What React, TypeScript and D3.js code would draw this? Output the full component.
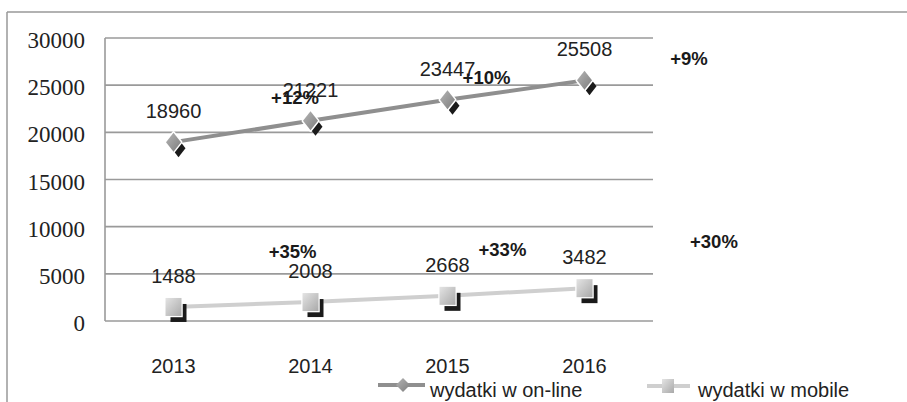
import React from "react";
import * as d3 from "d3";

const years = ["2013", "2014", "2015", "2016"];
const online = [18960, 21221, 23447, 25508];
const mobile = [1488, 2008, 2668, 3482];
const yTicks = [0, 5000, 10000, 15000, 20000, 25000, 30000];
const seriesNames = ["wydatki w on-line", "wydatki w mobile"];
// growth annotations: label, fractional category index, value anchor
const growthLabels = ["+12%", "+10%", "+9%", "+35%", "+33%", "+30%"];
const growthIdx = [0.887, 2.285, 3.763, 0.869, 2.401, 3.945];
const growthVal = [23000, 25124, 27138, 6678, 6890, 7739];

const W = 907;
const H = 402;
const plot = { left: 105, right: 653, top: 38, bottom: 321 };
const sans = "'Liberation Sans', Arial, sans-serif";
const serif =
  "'Liberation Serif', 'Times New Roman', Times, Tinos, 'Noto Serif', 'DejaVu Serif', FreeSerif, serif";

export default function App() {
  const x = d3.scaleBand().domain(years).range([plot.left, plot.right]);
  const cx = (i: number) => plot.left + x.bandwidth() * (i + 0.5);
  const y = d3.scaleLinear().domain([0, 30000]).range([plot.bottom, plot.top]);
  const line = d3
    .line<number>()
    .x((_, i) => cx(i))
    .y((d) => y(d));

  const diamond = (px: number, py: number, w: number, h: number) =>
    `M${px},${py - h / 2}L${px + w / 2},${py}L${px},${py + h / 2}L${px - w / 2},${py}Z`;

  const OnlineMarker = ({ px, py }: { px: number; py: number }) => (
    <g>
      <path d={diamond(px + 5, py + 6, 14, 18)} fill="#1a1a1a" />
      <path d={diamond(px, py, 15, 19)} fill="url(#gDiamond)" stroke="#fff" strokeWidth={3} strokeLinejoin="round" />
      <path d={diamond(px, py, 15, 19)} fill="url(#gDiamond)" />
    </g>
  );
  const MobileMarker = ({ px, py }: { px: number; py: number }) => (
    <g>
      <rect x={px - 8 + 5} y={py - 9 + 6} width={16} height={18} fill="#1a1a1a" />
      <rect x={px - 8} y={py - 9} width={16} height={18} fill="url(#gSquare)" stroke="#fff" strokeWidth={2.5} />
      <rect x={px - 8} y={py - 9} width={16} height={18} fill="url(#gSquare)" />
    </g>
  );

  const txt = (family: string, size: number, weight = "normal") => ({
    fontFamily: family,
    fontSize: size + "px",
    fontWeight: weight,
  });

  return (
    <svg
      width={W}
      height={H}
      style={{ position: "absolute", left: 0, top: 0, background: "#fff" }}
    >
      <defs>
        <linearGradient id="gDiamond" x1="0" y1="0" x2="1" y2="1">
          <stop offset="0" stopColor="#b5b5b5" />
          <stop offset="1" stopColor="#7d7d7d" />
        </linearGradient>
        <linearGradient id="gSquare" x1="0" y1="0" x2="1" y2="1">
          <stop offset="0" stopColor="#e4e4e4" />
          <stop offset="1" stopColor="#a9a9a9" />
        </linearGradient>
      </defs>
      <rect x={0} y={0} width={W} height={H} fill="#fff" />
      {/* outer frame */}
      <line x1={7} y1={12} x2={W} y2={12} stroke="#999" strokeWidth={1.5} />
      <line x1={7} y1={12} x2={7} y2={H} stroke="#999" strokeWidth={1.5} />

      {/* gridlines */}
      {yTicks.map((t) => (
        <line
          key={t}
          x1={plot.left}
          x2={plot.right}
          y1={y(t)}
          y2={y(t)}
          stroke="#9a9a9a"
          strokeWidth={1.6}
        />
      ))}
      <line x1={plot.left} x2={plot.left} y1={plot.top} y2={plot.bottom} stroke="#9a9a9a" strokeWidth={1.6} />

      {/* y tick labels */}
      {yTicks.map((t) => (
        <text
          key={t}
          x={85}
          y={y(t) + 10}
          textAnchor="end"
          style={txt(serif, 23)}
          fill="#222"
        >
          {t}
        </text>
      ))}

      {/* x labels */}
      {years.map((yr, i) => (
        <text key={yr} x={cx(i)} y={373} textAnchor="middle" style={txt(sans, 20)} fill="#222">
          {yr}
        </text>
      ))}

      {/* lines */}
      <path d={line(online) || ""} fill="none" stroke="#8f8f8f" strokeWidth={4} />
      <path d={line(mobile) || ""} fill="none" stroke="#cfcfcf" strokeWidth={4} />

      {online.map((v, i) => (
        <OnlineMarker key={"o" + i} px={cx(i)} py={y(v)} />
      ))}
      {mobile.map((v, i) => (
        <MobileMarker key={"m" + i} px={cx(i)} py={y(v)} />
      ))}

      {/* value labels */}
      {online.map((v, i) => (
        <text key={"ol" + i} x={cx(i)} y={y(v) - 24} textAnchor="middle" style={txt(sans, 20)} fill="#222">
          {v}
        </text>
      ))}
      {mobile.map((v, i) => (
        <text key={"ml" + i} x={cx(i)} y={y(v) - 24} textAnchor="middle" style={txt(sans, 20)} fill="#222">
          {v}
        </text>
      ))}

      {/* growth labels */}
      {growthLabels.map((g, i) => (
        <text
          key={g + i}
          x={plot.left + x.bandwidth() * (growthIdx[i] + 0.5)}
          y={y(growthVal[i])}
          textAnchor="middle"
          style={txt(sans, 18.5, "bold")}
          fill="#1a1a1a"
        >
          {g}
        </text>
      ))}

      {/* legend */}
      <g>
        <line x1={378} x2={425} y1={385} y2={385} stroke="#8f8f8f" strokeWidth={4} />
        <path d={diamond(403, 385, 14, 14)} fill="url(#gDiamond)" />
        <text x={430} y={397} style={txt(sans, 20)} fill="#222">
          {seriesNames[0]}
        </text>
        <line x1={647} x2={690} y1={386} y2={386} stroke="#cfcfcf" strokeWidth={4} />
        <rect x={662} y={379} width={12} height={14} fill="url(#gSquare)" />
        <text x={698} y={397} style={txt(sans, 20)} fill="#222">
          {seriesNames[1]}
        </text>
      </g>
    </svg>
  );
}
